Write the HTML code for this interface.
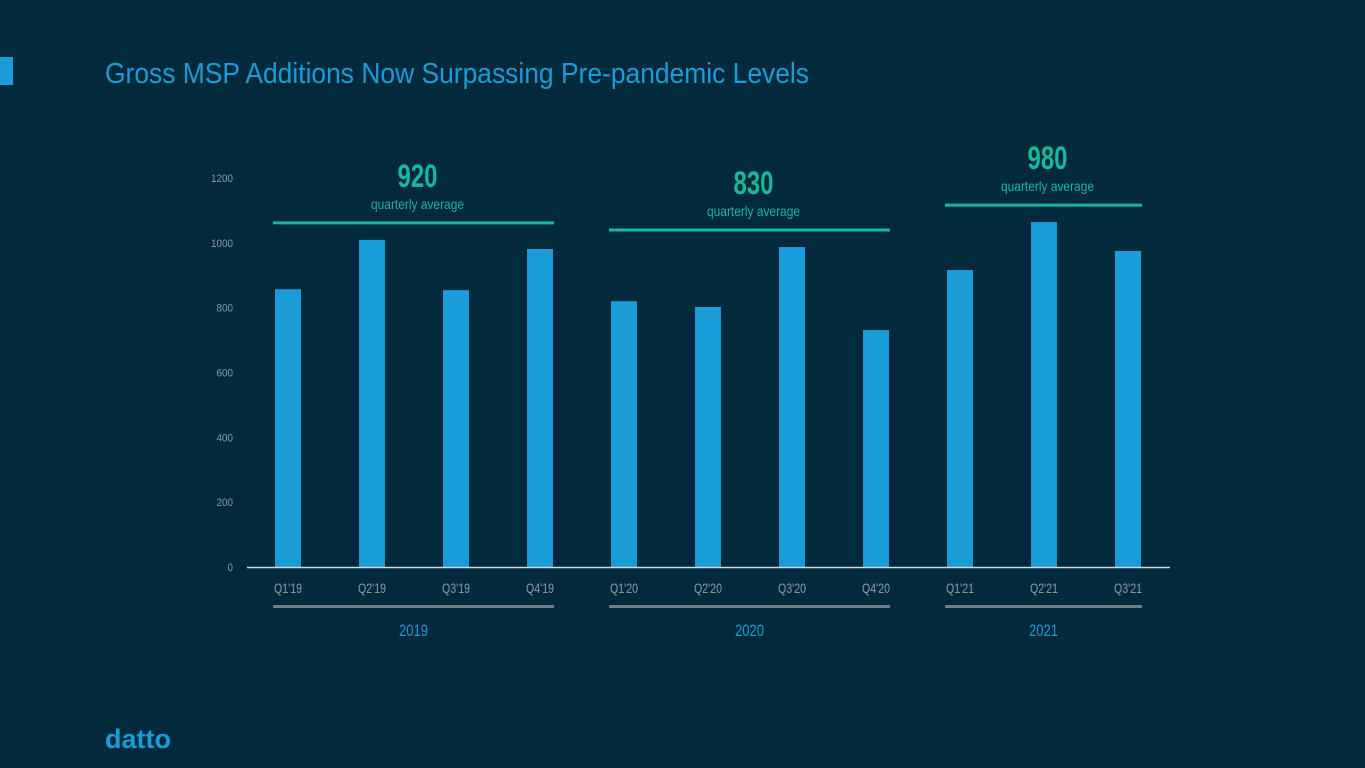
<!DOCTYPE html>
<html><head><meta charset="utf-8"><style>
html,body{margin:0;padding:0;background:#022a3c;}
svg{display:block;font-family:"Liberation Sans Narrow","Liberation Sans",sans-serif;}
</style></head><body>
<svg id="chart" width="1365" height="768" viewBox="0 0 1365 768">
<rect x="0" y="0" width="1365" height="768" fill="#022a3c"/>
<rect x="0" y="57" width="13" height="28" fill="#1a9cd8"/>
<text x="105" y="83" font-size="29" fill="#1a9cd8" textLength="704" lengthAdjust="spacingAndGlyphs">Gross MSP Additions Now Surpassing Pre-pandemic Levels</text>
<g id="yaxis"></g><g id="bars"></g><g id="xlabels"></g><g id="groups"></g>
<line x1="247" y1="567.5" x2="1170" y2="567.5" stroke="#cfd8dc" stroke-width="1.5"/>
<text x="105" y="748" font-size="27" font-weight="bold" fill="#1a9cd8" font-family="Liberation Sans, sans-serif" textLength="66" lengthAdjust="spacingAndGlyphs">datto</text>
</svg>
<script>
const categories=["Q1'19","Q2'19","Q3'19","Q4'19","Q1'20","Q2'20","Q3'20","Q4'20","Q1'21","Q2'21","Q3'21"];
const values=[857,1009,854,981,820,802,987,731,916,1064,975];
const yTicks=[0,200,400,600,800,1000,1200];
const groupYears=["2019","2020","2021"];
const groupStart=[0,4,8];
const groupEnd=[3,7,10];
const groupAvg=[920,830,980];
const NS="http://www.w3.org/2000/svg";
const y=v=>567-v*(389/1200);
const xc=i=>288+84*i;
function mk(tag,attrs,parent,text){const e=document.createElementNS(NS,tag);for(const k in attrs)e.setAttribute(k,attrs[k]);if(text!==undefined)e.textContent=text;parent.appendChild(e);return e;}
const ya=document.getElementById('yaxis');
yTicks.forEach(t=>{const e=mk('text',{x:233,y:y(t)+4,'font-size':11,fill:'#8c9ba4','text-anchor':'end',textLength:String(t).length*5.5,lengthAdjust:'spacingAndGlyphs'},ya,t);

});
const bg=document.getElementById('bars'),xl=document.getElementById('xlabels');
values.forEach((v,i)=>{const r=mk('rect',{x:xc(i)-13,y:y(v),width:26,height:567-y(v),fill:'#1a9cd8'},bg);


const t=mk('text',{x:xc(i),y:593,'font-size':14,fill:'#8c9ba4','text-anchor':'middle',textLength:28,lengthAdjust:'spacingAndGlyphs'},xl,categories[i]);

});
const gg=document.getElementById('groups');
groupYears.forEach((yr,g)=>{const x1=xc(groupStart[g])-15,x2=xc(groupEnd[g])+14,cx=(x1+x2)/2;
let mx=0;for(let i=groupStart[g];i<=groupEnd[g];i++)mx=Math.max(mx,values[i]);
const ly=y(mx)-17;
const al=mk('line',{x1:x1,y1:ly,x2:x2,y2:ly,stroke:'#17b89c','stroke-width':3},gg);


const an=mk('text',{x:cx+4,y:ly-36,'font-size':32,'font-weight':'bold',fill:'#17b89c','text-anchor':'middle',textLength:40,lengthAdjust:'spacingAndGlyphs'},gg,groupAvg[g]);


const aq=mk('text',{x:cx+4,y:ly-14,'font-size':14,fill:'#17b89c','text-anchor':'middle',textLength:93,lengthAdjust:'spacingAndGlyphs'},gg,'quarterly average');


const yl=mk('line',{x1:x1,y1:606.5,x2:x2,y2:606.5,stroke:'#6c7e88','stroke-width':3},gg);


const yt=mk('text',{x:cx,y:636,'font-size':17,fill:'#1a9cd8','text-anchor':'middle',textLength:29,lengthAdjust:'spacingAndGlyphs'},gg,yr);

});
</script>
</body></html>
